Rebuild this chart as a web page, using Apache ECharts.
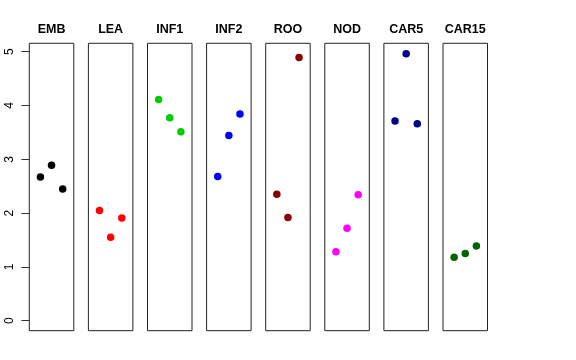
<!DOCTYPE html>
<html>
<head>
<meta charset="utf-8">
<script src="https://cdn.jsdelivr.net/npm/echarts@6/dist/echarts.min.js"></script>
<style>html,body{margin:0;padding:0;background:#fff;}#c{width:576px;height:360px;}</style>
</head>
<body>
<div id="c"></div>
<script>
var panels = ["EMB", "LEA", "INF1", "INF2", "ROO", "NOD", "CAR5", "CAR15"];
var colors = ["#000000", "#FF0000", "#00CD00", "#0000FF", "#8B0000", "#FF00FF", "#00008B", "#006400"];
var xPos = [1, 2, 3];
var EMB = [2.67, 2.89, 2.45];
var LEA = [2.05, 1.55, 1.91];
var INF1 = [4.11, 3.77, 3.51];
var INF2 = [2.68, 3.44, 3.84];
var ROO = [2.35, 1.92, 4.89];
var NOD = [1.28, 1.72, 2.34];
var CAR5 = [3.71, 4.96, 3.66];
var CAR15 = [1.18, 1.25, 1.39];
var values = [EMB, LEA, INF1, INF2, ROO, NOD, CAR5, CAR15];
var yTicks = [0, 1, 2, 3, 4, 5];

var chart = echarts.init(document.getElementById('c'), null, {renderer: 'canvas'});
var grids = [], xAxes = [], yAxes = [], series = [], graphics = [];
var left0 = 29.3, step = 59.1, w = 44.5;
for (var i = 0; i < panels.length; i++) {
  var L = left0 + i * step;
  grids.push({left: L, width: w, top: 43.3, height: 287.4, show: true, borderColor: '#222', borderWidth: 1, backgroundColor: 'transparent'});
  xAxes.push({type: 'value', gridIndex: i, min: 0, max: 4, show: false});
  var ya = {type: 'value', gridIndex: i, min: -0.186, max: 5.156, splitLine: {show: false}, axisLine: {show: false}};
  if (i === 0) {
    ya.axisTick = {show: true, length: 8, lineStyle: {color: '#333'}, customValues: yTicks};
    ya.axisLabel = {show: true, rotate: 90, margin: 14, fontSize: 12, color: '#000', fontFamily: 'Liberation Sans, Arial, sans-serif', customValues: yTicks};
  } else {
    ya.axisTick = {show: false};
    ya.axisLabel = {show: false};
  }
  yAxes.push(ya);
  graphics.push({type: 'text', x: L + w / 2, y: 29.3, silent: true,
    style: {text: panels[i], align: 'center', verticalAlign: 'middle', fill: '#000',
      font: 'bold 12.5px "Liberation Sans", Arial, sans-serif'}});
  var data = [];
  for (var j = 0; j < xPos.length; j++) data.push([xPos[j], values[i][j]]);
  series.push({type: 'scatter', xAxisIndex: i, yAxisIndex: i, data: data, symbol: 'circle', symbolSize: 7.5,
    itemStyle: {color: colors[i], opacity: 1}, silent: true, animation: false});
}
chart.setOption({
  animation: false,
  grid: grids,
  xAxis: xAxes,
  yAxis: yAxes,
  series: series,
  graphic: graphics
});
</script>
</body>
</html>
